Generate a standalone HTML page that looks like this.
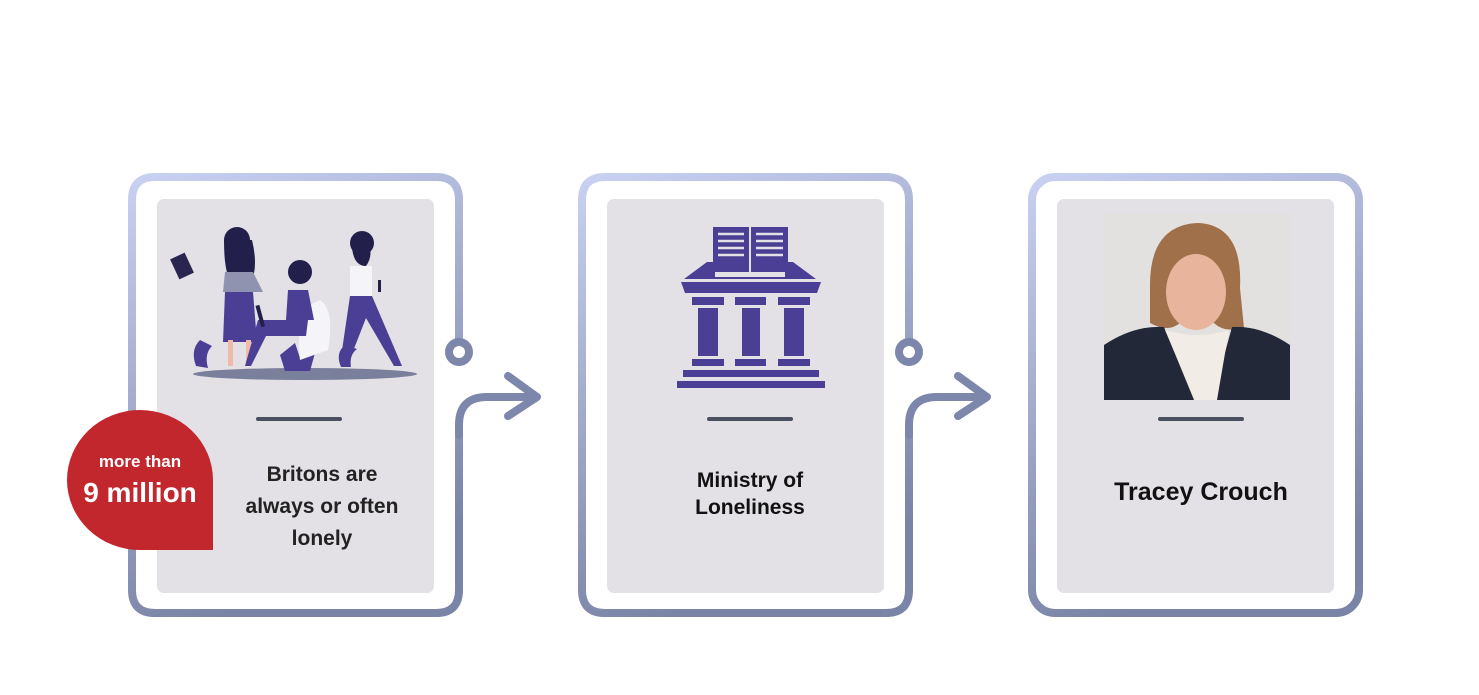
<!DOCTYPE html>
<html><head><meta charset="utf-8"><style>
html,body{margin:0;padding:0;background:#fff;}
body{width:1479px;height:695px;position:relative;overflow:hidden;font-family:"Liberation Sans",sans-serif;}
.t{position:absolute;text-align:center;font-weight:bold;color:#222;}
</style></head><body>
<svg width="1479" height="695" style="position:absolute;left:0;top:0">
<defs>
<linearGradient id="g" x1="0" y1="0" x2="0.3" y2="1">
<stop offset="0" stop-color="#c9d1f2"/><stop offset="1" stop-color="#7a84a6"/>
</linearGradient>
<linearGradient id="g2" x1="0" y1="0" x2="0" y2="1">
<stop offset="0" stop-color="#aab2d6"/><stop offset="1" stop-color="#7a84a6"/>
</linearGradient>
</defs>
<!-- card 1 -->
<g fill="none" stroke="url(#g)" stroke-width="8" stroke-linecap="round">
<path d="M459 340 V200 Q459 177 436 177 H155 Q132 177 132 200 V590 Q132 613 155 613 H436 Q459 613 459 590 V430"/>
<path d="M909 340 V200 Q909 177 886 177 H605 Q582 177 582 200 V590 Q582 613 605 613 H886 Q909 613 909 590 V430"/>
<rect x="1032" y="177" width="327" height="436" rx="23"/>
</g>
<g fill="none" stroke="#7d87ab" stroke-width="8" stroke-linecap="round" stroke-linejoin="round">
<circle cx="459" cy="352" r="10" fill="#fff"/>
<path d="M459 435 V425 Q459 397 487 397 H535"/>
<path d="M508 376 L537 397 L508 416"/>
<circle cx="909" cy="352" r="10" fill="#fff"/>
<path d="M909 435 V425 Q909 397 937 397 H985"/>
<path d="M958 376 L987 397 L958 416"/>
</g>
<!-- panels -->
<rect x="157" y="199" width="277" height="394" rx="7" fill="#e3e0e6"/>
<rect x="607" y="199" width="277" height="394" rx="7" fill="#e3e0e6"/>
<rect x="1057" y="199" width="277" height="394" rx="7" fill="#e3e0e6"/>
<!-- lines -->
<g stroke="#4a5060" stroke-width="4" stroke-linecap="round">
<line x1="258" y1="419" x2="340" y2="419"/>
<line x1="709" y1="419" x2="791" y2="419"/>
<line x1="1160" y1="419" x2="1242" y2="419"/>
</g>
<!-- people illustration -->
<ellipse cx="305" cy="374" rx="112" ry="6" fill="#7a7f9c"/>
<g fill="#4a3f94">
<path d="M200 340 q-10 10 -4 26 l12 2 q-4 -14 4 -22z"/>
<path d="M345 345 q-10 8 -4 22 l10 0 q-2 -12 6 -18z"/>
<path d="M280 355 l15 -12 l5 15 l15 -5 l-5 18 l-25 0z"/>
<rect x="174" y="255" width="16" height="22" transform="rotate(-25 182 266)" fill="#2a2550"/>
<circle cx="237" cy="240" r="13" fill="#22204a"/>
<path d="M224 240 q0 30 6 40 l22 0 q6 -15 0 -40z" fill="#22204a"/>
<path d="M225 272 h28 l10 20 h-40z" fill="#8f93b0"/>
<path d="M225 292 h28 l4 50 h-34z"/>
<rect x="228" y="340" width="5" height="26" fill="#f0b9a8"/>
<rect x="246" y="340" width="5" height="26" fill="#f0b9a8"/>
<circle cx="300" cy="272" r="12" fill="#22204a"/>
<path d="M320 300 q15 10 8 50 l-28 10 q-5 -30 10 -55z" fill="#f5f4f8"/>
<path d="M288 290 h20 l6 30 h-28z"/>
<path d="M258 320 h50 l-2 16 h-40 l-15 30 h-6z"/>
<rect x="258" y="305" width="4" height="22" fill="#22204a" transform="rotate(-15 260 315)"/>
<circle cx="362" cy="243" r="12" fill="#22204a"/>
<path d="M352 248 q2 18 14 18 q6 -8 4 -18z" fill="#22204a"/>
<path d="M350 266 h22 v30 h-22z" fill="#f5f4f8"/>
<path d="M350 296 h22 l30 70 h-8 l-28 -48 l-18 46 h-8z"/>
<rect x="378" y="280" width="3" height="12" fill="#22204a"/>
</g>
<!-- building icon -->
<g fill="#4a3f94">
<path d="M713 227 h36 v45 h-36z M751 227 h37 v45 h-37z"/>
<path d="M707 262 h8 v15 h70 v-15 h8 l23 17 h-132z"/>
<path d="M681 282 h140 l-4 11 h-132z"/>
<rect x="692" y="297" width="32" height="8"/><rect x="735" y="297" width="31" height="8"/><rect x="778" y="297" width="32" height="8"/>
<rect x="698" y="308" width="20" height="48"/><rect x="742" y="308" width="18" height="48"/><rect x="784" y="308" width="20" height="48"/>
<rect x="692" y="359" width="32" height="7"/><rect x="735" y="359" width="31" height="7"/><rect x="778" y="359" width="32" height="7"/>
<rect x="683" y="370" width="136" height="7"/><rect x="677" y="381" width="148" height="7"/>
</g>
<g stroke="#e3e0e6" stroke-width="2.5">
<line x1="718" y1="234" x2="744" y2="234"/><line x1="718" y1="241" x2="744" y2="241"/><line x1="718" y1="248" x2="744" y2="248"/><line x1="718" y1="255" x2="744" y2="255"/>
<line x1="756" y1="234" x2="783" y2="234"/><line x1="756" y1="241" x2="783" y2="241"/><line x1="756" y1="248" x2="783" y2="248"/><line x1="756" y1="255" x2="783" y2="255"/>
</g>
<!-- photo -->
<rect x="1104" y="214" width="186" height="186" fill="#e2e1e0"/>
<path d="M1150 285 q0 -60 48 -62 q45 2 42 65 l4 40 q-20 5 -30 -5 l-34 0 q-12 10 -30 0z" fill="#a0704a"/>
<ellipse cx="1196" cy="292" rx="30" ry="38" fill="#e8b49c"/>
<path d="M1104 345 q30 -20 60 -18 l30 73 h-90z" fill="#232839"/>
<path d="M1290 345 q-30 -20 -58 -18 l-20 73 h78z" fill="#232839"/>
<path d="M1165 330 l30 70 l22 0 l12 -70 q-30 10 -64 0z" fill="#f1ede6"/>
<!-- red badge -->
<path d="M213 550 H140 A73 70 0 1 1 213 480 Z" fill="#c1272d"/>
</svg>
<div class="t" style="left:67px;top:452px;width:146px;font-size:17px;color:#fff">more than</div>
<div class="t" style="left:67px;top:477px;width:146px;font-size:28px;color:#fff">9 million</div>
<div class="t" style="left:222px;top:459px;width:200px;font-size:21px;line-height:32px">Britons are<br>always or often<br>lonely</div>
<div class="t" style="left:650px;top:467px;width:200px;font-size:21px;line-height:27px;color:#111">Ministry of<br>Loneliness</div>
<div class="t" style="left:1080px;top:478px;width:242px;font-size:25px;color:#111">Tracey Crouch</div>
</body></html>
